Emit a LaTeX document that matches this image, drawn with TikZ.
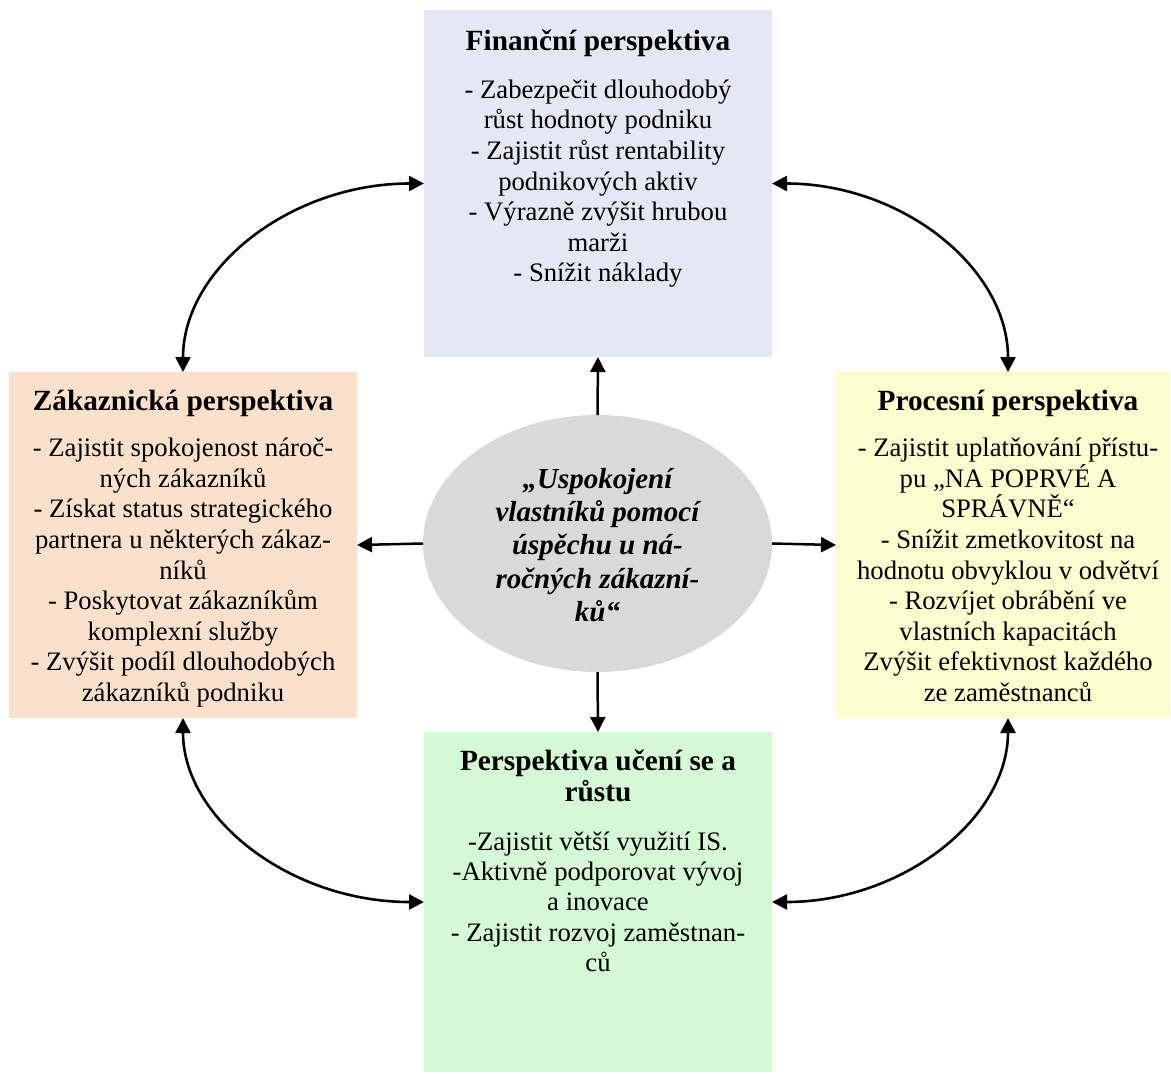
\documentclass[tikz,border=0pt]{standalone}
\usepackage{fontspec}
\setmainfont{Liberation Serif}
\usetikzlibrary{arrows.meta,shapes.geometric}
\definecolor{finc}{HTML}{E3E9F3}
\definecolor{zakc}{HTML}{FBE1CB}
\definecolor{procc}{HTML}{FDFDD0}
\definecolor{ucc}{HTML}{D5F8D5}
\definecolor{ellc}{HTML}{D9D9D9}
\begin{document}
\begin{tikzpicture}[x=1pt,y=-1pt,
  box/.style={draw=none,inner sep=0pt,outer sep=0pt,anchor=north west},
  ttl/.style={anchor=base,inner sep=0pt,font=\fontsize{29.3}{31.7}\selectfont\bfseries},
  bodytxt/.style={anchor=base,inner sep=0pt},
  arr/.style={line width=2.5pt,-{Triangle[length=15pt,width=15pt]}},
  darr/.style={line width=2.6pt,{Triangle[length=15pt,width=15pt]}-{Triangle[length=15pt,width=15pt]}}
]
\useasboundingbox (0,0) rectangle (1171,1074);

% boxes
\node[box,fill=finc,minimum width=348pt,minimum height=347pt] (fin) at (424,10) {};
\node[box,fill=zakc,minimum width=348pt,minimum height=346pt] (zak) at (9,372) {};
\node[box,fill=procc,minimum width=334pt,minimum height=346pt] (proc) at (836,372) {};
\node[box,fill=ucc,minimum width=348pt,minimum height=340pt] (uc) at (424,732) {};
\node[ellipse,fill=ellc,draw=none,inner sep=0pt,outer sep=0pt,minimum width=349pt,minimum height=257pt] (ell) at (597.5,543.5) {};

% texts
\node[ttl] (fint) at (598,50.7) {Finanční perspektiva};
\node[bodytxt] (finb) at (598,98.3) {\parbox[t]{346pt}{\centering\fontsize{26.7}{30.6}\selectfont
- Zabezpečit dlouhodobý\\
růst hodnoty podniku\\
- Zajistit růst rentability\\
podnikových aktiv\\
- Výrazně zvýšit hrubou\\
marži\\
- Snížit náklady}};

\node[ttl] (zakt) at (183,410) {Zákaznická perspektiva};
\node[bodytxt] (zakb) at (183,456.7) {\parbox[t]{346pt}{\centering\fontsize{26.7}{30.6}\selectfont
- Zajistit spokojenost nároč-\\
ných zákazníků\\
- Získat status strategického\\
partnera u některých zákaz-\\
níků\\
- Poskytovat zákazníkům\\
komplexní služby\\
- Zvýšit podíl dlouhodobých\\
zákazníků podniku}};

\node[ttl] (proct) at (1008,410) {Procesní perspektiva};
\node[bodytxt] (procb) at (1008,456.7) {\parbox[t]{334pt}{\centering\fontsize{26.7}{30.6}\selectfont
- Zajistit uplatňování přístu-\\
pu „NA POPRVÉ A\\
SPRÁVNĚ“\\
- Snížit zmetkovitost na\\
hodnotu obvyklou v odvětví\\
- Rozvíjet obrábění ve\\
vlastních kapacitách\\
Zvýšit efektivnost každého\\
ze zaměstnanců}};

\node[bodytxt] (uct) at (598,770) {\parbox[t]{346pt}{\centering\fontsize{29.3}{31.7}\selectfont\bfseries
Perspektiva učení se a\\
růstu}};
\node[bodytxt] (ucb) at (598,850) {\parbox[t]{346pt}{\centering\fontsize{26.7}{30.4}\selectfont
-Zajistit větší využití IS.\\
-Aktivně podporovat vývoj\\
a inovace\\
- Zajistit rozvoj zaměstnan-\\
ců}};

\node[bodytxt] (ellt) at (597.5,488) {\parbox[t]{340pt}{\centering\fontsize{29}{33.4}\selectfont\bfseries\itshape
„Uspokojení\\
vlastníků pomocí\\
úspěchu u ná-\\
ročných zákazní-\\
ků“}};

% straight arrows
\draw[arr] (ell.north) -- (fin.south);
\draw[arr] (ell.west) -- (zak.east);
\draw[arr] (ell.east) -- (proc.west);
\draw[arr] (ell.south) -- (uc.north);

% curved double arrows
\draw[darr] (zak.north) .. controls +(0,-104) and +(-133,0) .. (fin.west);
\draw[darr] (fin.east) .. controls +(130,0) and +(0,-104) .. ([xshift=5pt]proc.north);
\draw[darr] (zak.south) .. controls +(0,101) and +(-133,0) .. (uc.west);
\draw[darr] ([xshift=5pt]proc.south) .. controls +(0,101) and +(130,0) .. (uc.east);
\end{tikzpicture}
\end{document}
